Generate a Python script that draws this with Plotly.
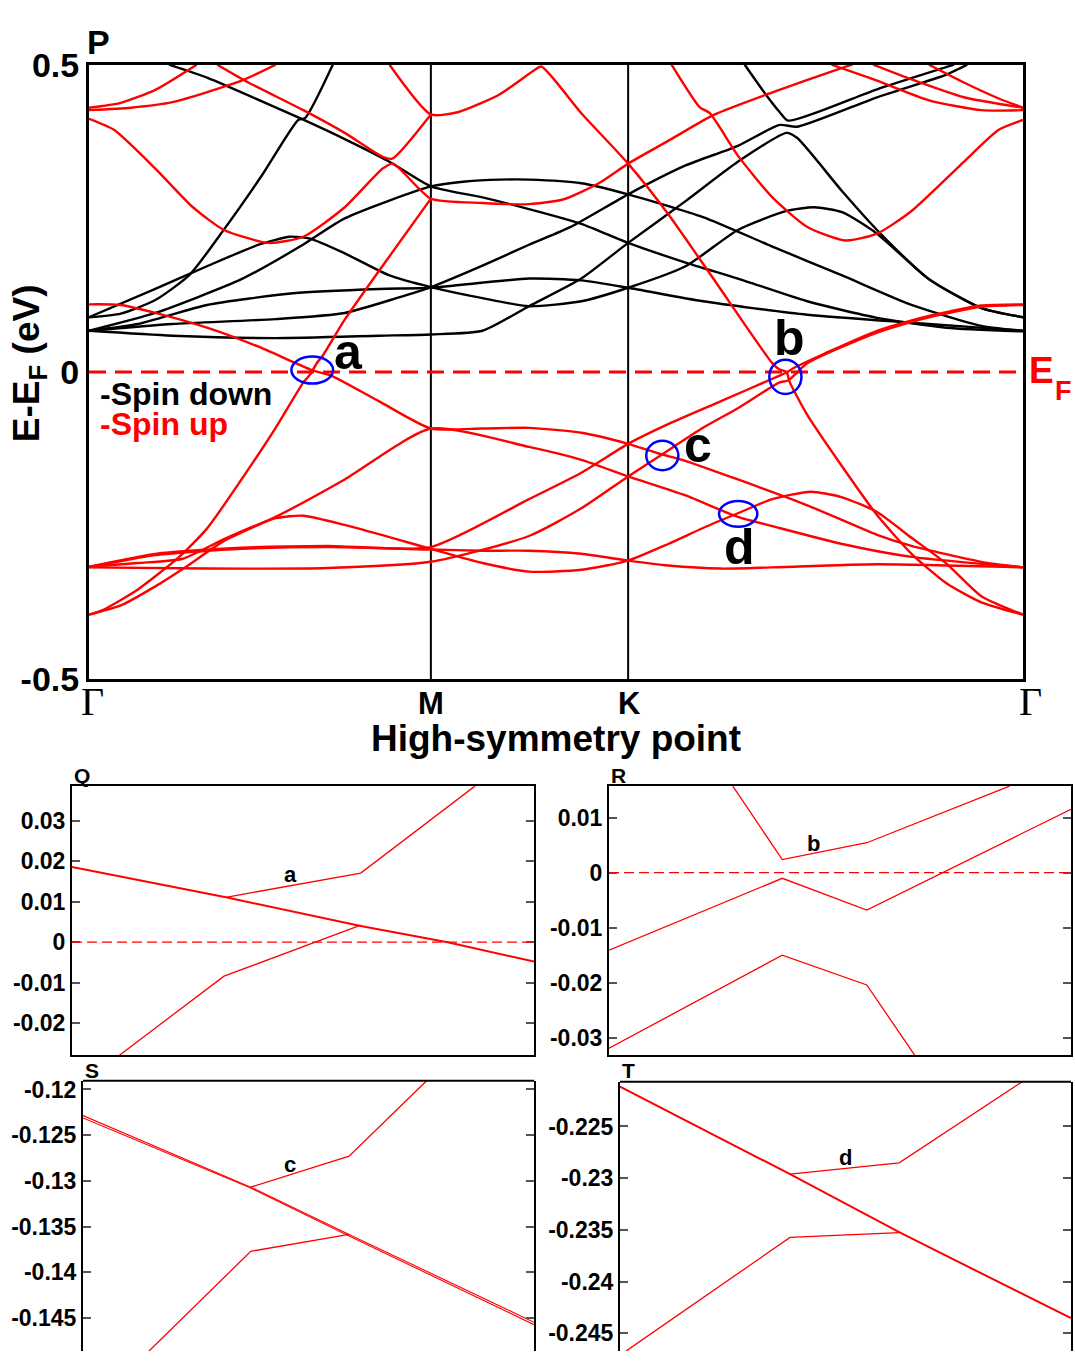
import plotly.graph_objects as go

W, H = 1075, 1370

# ---------------- main panel (P): band structure along Γ-M-K-Γ ----------------
path_pos = [0.0, 1.0, 1.577, 2.732]
path_labels = ["Γ", "M", "K", "Γ"]
E_range = [-0.5, 0.5]
E_ticks = [-0.5, 0.0, 0.5]
E_ticktext = ["-0.5", "0", "0.5"]

# spin-down bands (black)
dn1_k = [0.234, 0.345, 0.446, 0.617, 0.748, 0.879, 1.0, 1.151, 1.287, 1.440, 1.577, 1.745, 1.898, 2.101, 2.305, 2.508, 2.732]
dn1_E = [0.500, 0.479, 0.455, 0.413, 0.379, 0.342, 0.302, 0.284, 0.265, 0.241, 0.210, 0.178, 0.152, 0.115, 0.088, 0.072, 0.066]
dn2_k = [0, 0.093, 0.194, 0.294, 0.395, 0.506, 0.612, 0.632, 0.713]
dn2_E = [0.089, 0.095, 0.117, 0.158, 0.232, 0.320, 0.410, 0.413, 0.500]
dn3_k = [0, 0.194, 0.345, 0.496, 0.587, 0.647, 0.748, 0.879, 1.0, 1.151, 1.287, 1.440, 1.577, 1.745, 1.898, 2.040, 2.121, 2.203, 2.305, 2.457, 2.610, 2.732]
dn3_E = [0.089, 0.135, 0.172, 0.207, 0.220, 0.217, 0.193, 0.157, 0.138, 0.120, 0.107, 0.115, 0.137, 0.172, 0.231, 0.262, 0.268, 0.260, 0.225, 0.151, 0.104, 0.089]
dn4_k = [0, 0.194, 0.446, 0.617, 0.748, 1.0, 1.101, 1.202, 1.287, 1.440, 1.577, 1.796, 1.999, 2.203, 2.406, 2.610, 2.732]
dn4_E = [0.067, 0.096, 0.151, 0.204, 0.250, 0.302, 0.310, 0.313, 0.313, 0.307, 0.289, 0.252, 0.204, 0.157, 0.109, 0.075, 0.067]
dn5_k = [0, 0.244, 0.546, 0.748, 0.899, 1.0, 1.151, 1.287, 1.409, 1.577, 1.745, 1.898, 2.020, 2.071, 2.305, 2.508, 2.569]
dn5_E = [0.067, 0.078, 0.086, 0.096, 0.120, 0.138, 0.173, 0.207, 0.236, 0.289, 0.336, 0.368, 0.402, 0.399, 0.447, 0.484, 0.500]
dn6_k = [0, 0.143, 0.345, 0.597, 0.849, 1.0, 1.287, 1.440, 1.577, 1.796, 2.101, 2.406, 2.732]
dn6_E = [0.067, 0.078, 0.109, 0.128, 0.135, 0.137, 0.152, 0.149, 0.137, 0.115, 0.093, 0.080, 0.067]
dn7_k = [0, 0.244, 0.546, 0.849, 1.0, 1.151, 1.287, 1.440, 1.577, 1.745, 1.898, 2.040, 2.071, 2.203, 2.305, 2.457, 2.610, 2.732]
dn7_E = [0.067, 0.059, 0.055, 0.059, 0.061, 0.067, 0.107, 0.152, 0.210, 0.278, 0.342, 0.389, 0.381, 0.294, 0.231, 0.151, 0.104, 0.089]
dn8_k = [1.918, 1.979, 2.020, 2.045, 2.305, 2.530]
dn8_E = [0.500, 0.452, 0.423, 0.409, 0.460, 0.500]

# spin-up bands (red)
up1_k = [0, 0.093, 0.194, 0.315]
up1_E = [0.430, 0.438, 0.459, 0.500]
up2_k = [0, 0.123, 0.244, 0.446, 0.546]
up2_E = [0.426, 0.430, 0.439, 0.474, 0.500]
up3_k = [0.375, 0.466, 0.627, 0.748, 0.859, 0.887, 1.0]
up3_E = [0.500, 0.471, 0.426, 0.389, 0.350, 0.347, 0.419]
up4_k = [0.879, 1.0, 1.081, 1.202, 1.300, 1.323, 1.440, 1.577, 1.694, 1.826, 1.999, 2.020, 2.040, 2.050, 2.101, 2.203, 2.305, 2.406, 2.508, 2.610, 2.732]
up4_E = [0.500, 0.419, 0.423, 0.452, 0.490, 0.497, 0.421, 0.339, 0.257, 0.152, 0.014, 0.004, 0.000, -0.017, -0.070, -0.154, -0.233, -0.296, -0.344, -0.375, -0.395]
up5_k = [0, 0.073, 0.194, 0.304, 0.395, 0.526, 0.627, 0.748, 0.859, 0.889, 1.0, 1.151, 1.287, 1.389, 1.491, 1.577, 1.694, 1.826, 1.999, 2.203, 2.233]
up5_E = [0.412, 0.394, 0.331, 0.268, 0.231, 0.210, 0.220, 0.268, 0.331, 0.339, 0.282, 0.275, 0.273, 0.281, 0.307, 0.339, 0.376, 0.418, 0.455, 0.495, 0.500]
up6_k = [0, 0.042, 0.143, 0.264, 0.345, 0.446, 0.546, 0.627, 0.647, 0.667, 0.682, 0.748, 0.849, 1.0]
up6_E = [-0.395, -0.387, -0.354, -0.301, -0.255, -0.175, -0.091, -0.017, -0.004, 0.015, 0.025, 0.085, 0.165, 0.282]
up7_k = [0, 0.093, 0.194, 0.284, 0.395, 0.546, 0.748, 1.0, 1.287, 1.440, 1.577, 1.745, 1.898, 1.999, 2.203, 2.406, 2.732]
up7_E = [-0.395, -0.380, -0.349, -0.317, -0.275, -0.236, -0.175, -0.092, -0.122, -0.143, -0.170, -0.201, -0.236, -0.251, -0.280, -0.301, -0.318]
up8_k = [0, 0.093, 0.194, 0.345, 0.496, 0.652, 0.708, 0.849, 1.0, 1.151, 1.287, 1.440, 1.577, 1.674, 1.735, 1.898, 2.101, 2.305, 2.406, 2.610, 2.732]
up8_E = [0.110, 0.109, 0.096, 0.072, 0.041, 0.003, -0.006, -0.048, -0.092, -0.092, -0.091, -0.099, -0.117, -0.134, -0.143, -0.175, -0.217, -0.265, -0.283, -0.309, -0.318]
up9_k = [0, 0.143, 0.274, 0.395, 0.546, 0.627, 0.748, 0.899, 1.0, 1.151, 1.287, 1.440, 1.577, 1.694, 1.796, 1.898, 1.999, 2.111, 2.203, 2.305, 2.406, 2.508, 2.610, 2.732]
up9_E = [-0.317, -0.311, -0.304, -0.272, -0.238, -0.234, -0.249, -0.272, -0.288, -0.311, -0.325, -0.322, -0.307, -0.280, -0.254, -0.230, -0.207, -0.195, -0.204, -0.228, -0.270, -0.312, -0.365, -0.395]
up10_k = [0, 0.194, 0.446, 0.698, 1.0, 1.287, 1.440, 1.577, 1.694, 1.847, 2.020, 2.040, 2.060, 2.152, 2.305, 2.457, 2.610, 2.732]
up10_E = [-0.317, -0.296, -0.286, -0.283, -0.285, -0.207, -0.164, -0.117, -0.085, -0.048, -0.006, -0.001, 0.006, 0.030, 0.067, 0.091, 0.108, 0.110]
up11_k = [0, 0.194, 0.446, 0.698, 1.0, 1.151, 1.287, 1.440, 1.577, 1.694, 1.847, 1.999, 2.305, 2.732]
up11_E = [-0.318, -0.298, -0.288, -0.285, -0.289, -0.291, -0.291, -0.296, -0.307, -0.315, -0.320, -0.318, -0.313, -0.318]
up12_k = [0, 0.345, 0.698, 1.0, 1.287, 1.440, 1.577, 1.674, 1.796, 1.898, 2.020, 2.045, 2.101, 2.305, 2.457, 2.610, 2.732]
up12_E = [-0.318, -0.320, -0.319, -0.309, -0.267, -0.222, -0.170, -0.135, -0.091, -0.059, -0.017, -0.014, 0.014, 0.064, 0.089, 0.106, 0.109]
up13_k = [1.704, 1.786, 1.816, 1.898, 1.999, 2.101, 2.213, 2.305, 2.406, 2.559, 2.661, 2.732]
up13_E = [0.500, 0.431, 0.421, 0.352, 0.284, 0.236, 0.214, 0.225, 0.262, 0.342, 0.394, 0.410]
up14_k = [2.172, 2.305, 2.457, 2.610, 2.732]
up14_E = [0.500, 0.474, 0.442, 0.426, 0.426]
up15_k = [2.294, 2.406, 2.559, 2.732]
up15_E = [0.500, 0.476, 0.447, 0.430]
up16_k = [2.457, 2.559, 2.661, 2.732]
up16_E = [0.500, 0.471, 0.445, 0.430]

# crossing points highlighted (label, k centre, E centre, k half-width, E half-height)
cross_labels = ["a", "b", "c", "d"]
cross_k = [0.653, 2.037, 1.677, 1.899]
cross_E = [0.003, -0.008, -0.136, -0.231]
cross_dk = [0.061, 0.047, 0.047, 0.056]
cross_dE = [0.022, 0.028, 0.024, 0.021]
label_k = [0.760, 2.050, 1.782, 1.903]
label_E = [0.033, 0.055, -0.119, -0.285]

# ---------------- zoom panels Q, R, S, T ----------------
Q_x1 = [0, 0.333, 0.625, 0.813, 1.0]
Q_E1 = [0.0186, 0.0111, 0.0040, 0.0, -0.0048]
Q_x2 = [0.333, 0.625, 0.872]
Q_E2 = [0.0111, 0.0171, 0.0386]
Q_x3 = [0.102, 0.329, 0.625]
Q_E3 = [-0.028, -0.0084, 0.0042]
Q_ticks = [-0.02, -0.01, 0, 0.01, 0.02, 0.03]
Q_ticktext = ["-0.02", "-0.01", "0", "0.01", "0.02", "0.03"]

R_x1 = [0.268, 0.375, 0.558, 0.867]
R_E1 = [0.0157, 0.00236, 0.00542, 0.0157]
R_x2 = [0, 0.375, 0.558, 1.0]
R_E2 = [-0.0141, -0.00104, -0.0068, 0.0115]
R_x3 = [0, 0.375, 0.558, 0.662]
R_E3 = [-0.0319, -0.0150, -0.0204, -0.0332]
R_ticks = [-0.03, -0.02, -0.01, 0, 0.01]
R_ticktext = ["-0.03", "-0.02", "-0.01", "0", "0.01"]

S_x1 = [0, 0.372, 0.590, 1.0]
S_E1a = [-0.12285, -0.13068, -0.13585, -0.14546]
S_E1b = [-0.12312, -0.13078, -0.13602, -0.14572]
S_x2 = [0.372, 0.590, 0.762]
S_E2 = [-0.13068, -0.12730, -0.11904]
S_x3 = [0.145, 0.372, 0.590]
S_E3 = [-0.14867, -0.1377, -0.13585]
S_ticks = [-0.145, -0.14, -0.135, -0.13, -0.125, -0.12]
S_ticktext = ["-0.145", "-0.14", "-0.135", "-0.13", "-0.125", "-0.12"]

T_x1 = [0, 0.377, 0.619, 1.0]
T_E1 = [-0.22114, -0.22961, -0.23522, -0.24353]
T_x2 = [0.377, 0.619, 0.892]
T_E2 = [-0.22961, -0.22851, -0.22067]
T_x3 = [0.014, 0.377, 0.619]
T_E3 = [-0.24669, -0.23572, -0.23525]
T_ticks = [-0.245, -0.24, -0.235, -0.23, -0.225]
T_ticktext = ["-0.245", "-0.24", "-0.235", "-0.23", "-0.225"]

zoom_label_x = [0.474, 0.442, 0.458, 0.500]
zoom_label_E = [0.0167, 0.0053, -0.1282, -0.2280]

# ---------------- build figure ----------------
SANS = "Liberation Sans, Arial, Helvetica, sans-serif"
SERIF = "Liberation Serif, Times New Roman, serif"
RED = "#ff0000"


def px(x):
    return x / W


def py(y):
    return 1 - y / H


fig = go.Figure()

dn_bands = [(dn1_k, dn1_E), (dn2_k, dn2_E), (dn3_k, dn3_E), (dn4_k, dn4_E),
            (dn5_k, dn5_E), (dn6_k, dn6_E), (dn7_k, dn7_E), (dn8_k, dn8_E)]
up_bands = [(up1_k, up1_E), (up2_k, up2_E), (up3_k, up3_E), (up4_k, up4_E),
            (up5_k, up5_E), (up6_k, up6_E), (up7_k, up7_E), (up8_k, up8_E),
            (up9_k, up9_E), (up10_k, up10_E), (up11_k, up11_E), (up12_k, up12_E),
            (up13_k, up13_E), (up14_k, up14_E), (up15_k, up15_E), (up16_k, up16_E)]

for k, e in dn_bands:
    fig.add_trace(go.Scatter(x=k, y=e, mode="lines", xaxis="x", yaxis="y",
                             line=dict(color="black", width=2.4, shape="spline", smoothing=0.6),
                             hoverinfo="skip", showlegend=False))
for k, e in up_bands:
    fig.add_trace(go.Scatter(x=k, y=e, mode="lines", xaxis="x", yaxis="y",
                             line=dict(color=RED, width=2.4, shape="spline", smoothing=0.6),
                             hoverinfo="skip", showlegend=False))

zoom_sets = [
    ("x2", "y2", [(Q_x1, Q_E1, 2.0), (Q_x2, Q_E2, 1.3), (Q_x3, Q_E3, 1.3)]),
    ("x3", "y3", [(R_x1, R_E1, 1.3), (R_x2, R_E2, 1.3), (R_x3, R_E3, 1.3)]),
    ("x4", "y4", [(S_x1, S_E1a, 1.1), (S_x1, S_E1b, 1.1), (S_x2, S_E2, 1.3), (S_x3, S_E3, 1.3)]),
    ("x5", "y5", [(T_x1, T_E1, 2.0), (T_x2, T_E2, 1.3), (T_x3, T_E3, 1.3)]),
]
for xa, ya, lines in zoom_sets:
    for xs, es, w in lines:
        fig.add_trace(go.Scatter(x=xs, y=es, mode="lines", xaxis=xa, yaxis=ya,
                                 line=dict(color=RED, width=w),
                                 hoverinfo="skip", showlegend=False))

shapes = []
# high-symmetry vertical lines
for kv in path_pos[1:3]:
    shapes.append(dict(type="line", xref="x", yref="y", x0=kv, x1=kv, y0=E_range[0], y1=E_range[1],
                       line=dict(color="black", width=2), layer="below"))
# Fermi level
shapes.append(dict(type="line", xref="x", yref="y", x0=path_pos[0], x1=path_pos[-1], y0=0, y1=0,
                   line=dict(color=RED, width=3, dash="17px,9px")))
# ellipses
for kc, ec, dk, de in zip(cross_k, cross_E, cross_dk, cross_dE):
    shapes.append(dict(type="circle", xref="x", yref="y", x0=kc - dk, x1=kc + dk, y0=ec - de, y1=ec + de,
                       line=dict(color="#0000ff", width=2.5)))
# Fermi level in Q and R
for xa, ya in [("x2", "y2"), ("x3", "y3")]:
    shapes.append(dict(type="line", xref=xa, yref=ya, x0=0, x1=1, y0=0, y1=0,
                       line=dict(color=RED, width=1.2, dash="10px,5px")))
# top frame of S and T
for xa, ya in [("x4", "y4"), ("x5", "y5")]:
    shapes.append(dict(type="line", xref=xa + " domain", yref=ya + " domain", x0=0, x1=1, y0=1, y1=1,
                       line=dict(color="black", width=2)))

ann = []


def text(x, y, s, size, color="black", family=SANS, xanchor="center", yanchor="middle", angle=0,
         xref="paper", yref="paper"):
    ann.append(dict(x=x, y=y, xref=xref, yref=yref, text=s, showarrow=False, xanchor=xanchor,
                    yanchor=yanchor, textangle=angle, font=dict(family=family, size=size, color=color)))


text(px(85), py(24), "<b>P</b>", 34, xanchor="left")
text(px(29), py(354), "<b>E-E<sub>F</sub> (eV)</b>", 37, angle=-90)
text(px(98), py(386), "<b>-Spin down</b>", 32, xanchor="left")
text(px(98), py(417), "<b>-Spin up</b>", 32, color=RED, xanchor="left")
text(px(1027), py(362), "<b>E</b>", 37, color=RED, xanchor="left")
text(px(1053), py(383), "<b>F</b>", 27, color=RED, xanchor="left")
# x-axis labels
label_px = [92, 431, 629, 1030]
for lab, xp in zip(path_labels, label_px):
    if lab == "Γ":
        text(px(xp), py(702), lab, 40, family=SERIF)
    else:
        text(px(xp), py(704), "<b>" + lab + "</b>", 31)
text(px(556), py(740), "<b>High-symmetry point</b>", 37)
# crossing letters
for lab, kx, ey in zip(cross_labels, label_k, label_E):
    text(kx, ey, "<b>" + lab + "</b>", 50, xref="x", yref="y")
# panel letters
for lab, xp, yp in [("Q", 72, 778), ("R", 609, 778), ("S", 83, 1081), ("T", 620, 1081)]:
    text(px(xp), py(yp), "<b>" + lab + "</b>", 21, xanchor="left")
for lab, xa, ya, xv, ev in zip(cross_labels, ["x2", "x3", "x4", "x5"], ["y2", "y3", "y4", "y5"],
                               zoom_label_x, zoom_label_E):
    text(xv, ev, "<b>" + lab + "</b>", 22, xref=xa, yref=ya)

main_dom_x = [px(89), px(1023)]
main_dom_y = [py(679), py(47)]

layout = dict(
    width=W, height=H, margin=dict(l=0, r=0, t=0, b=0),
    paper_bgcolor="white", plot_bgcolor="white", showlegend=False,
    shapes=shapes, annotations=ann,
    xaxis=dict(domain=main_dom_x, range=[path_pos[0], path_pos[-1]], anchor="y",
               showline=True, linewidth=3, linecolor="black", mirror=True,
               showgrid=False, zeroline=False, showticklabels=False, ticks=""),
    yaxis=dict(domain=main_dom_y, range=E_range, anchor="x",
               showline=True, linewidth=3, linecolor="black", mirror=True,
               showgrid=False, zeroline=False, ticks="",
               tickvals=E_ticks, ticktext=["<b>" + t + "</b>" for t in E_ticktext],
               tickfont=dict(family=SANS, size=34, color="black")),
)

zoom_axes = [
    (2, [px(72), px(534)], [py(1066), py(789)], [-0.028, 0.0386], Q_ticks, Q_ticktext, True),
    (3, [px(609), px(1071)], [py(1066), py(789)], [-0.0332, 0.0157], R_ticks, R_ticktext, True),
    (4, [px(83), px(534)], [0.0, py(1092)], [-0.1486, -0.11904], S_ticks, S_ticktext, False),
    (5, [px(620), px(1071)], [0.0, py(1093)], [-0.2467, -0.22067], T_ticks, T_ticktext, False),
]
for n, dx, dy, yr, tv, tt, xline in zoom_axes:
    layout["xaxis%d" % n] = dict(domain=dx, range=[0, 1], anchor="y%d" % n,
                                 showline=xline, linewidth=2, linecolor="black", mirror=xline,
                                 showgrid=False, zeroline=False, showticklabels=False, ticks="")
    layout["yaxis%d" % n] = dict(domain=dy, range=yr, anchor="x%d" % n,
                                 showline=True, linewidth=2, linecolor="black", mirror="ticks",
                                 showgrid=False, zeroline=False, ticks="inside", ticklen=8,
                                 tickwidth=1.5, tickcolor="#555555",
                                 tickvals=tv, ticktext=["<b>" + t + "</b>" for t in tt],
                                 tickfont=dict(family=SANS, size=23, color="black"))

fig.update_layout(**layout)
fig.write_html("out.html")
